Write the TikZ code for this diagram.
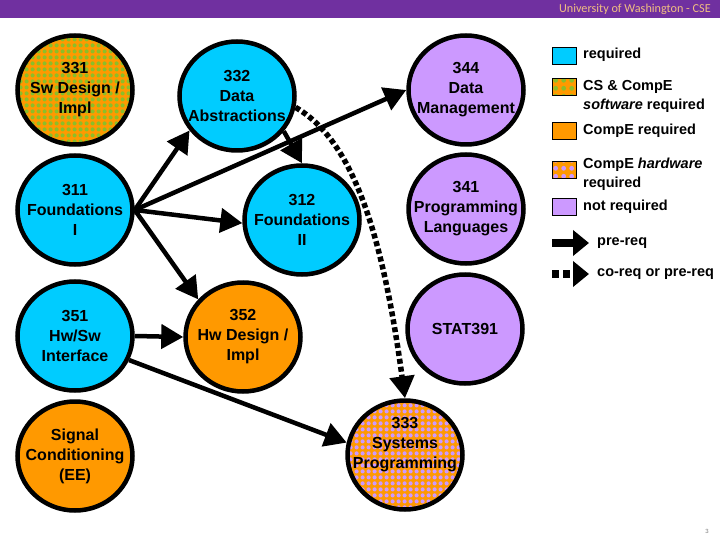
\documentclass[tikz,border=0pt]{standalone}
\usepackage{fontspec}
\setmainfont{Liberation Sans}
\newfontfamily\hdrfont{Carlito}
\usetikzlibrary{shapes.geometric,arrows.meta,patterns}
\definecolor{ccyan}{RGB}{0,204,255}
\definecolor{corange}{RGB}{255,153,0}
\definecolor{clav}{RGB}{204,153,255}
\definecolor{cgreen}{RGB}{140,190,40}
\definecolor{cpurple}{RGB}{112,48,160}
\definecolor{chdr}{RGB}{240,190,130}
\pgfdeclarepatternformonly{cdots}{\pgfqpoint{0pt}{0pt}}{\pgfqpoint{6pt}{6pt}}{\pgfqpoint{6pt}{6pt}}{\pgfpathcircle{\pgfqpoint{3pt}{3pt}}{2.4pt}\pgfusepath{fill}}
\pgfdeclarepatternformonly{ldots}{\pgfqpoint{0pt}{0pt}}{\pgfqpoint{8pt}{8pt}}{\pgfqpoint{8pt}{8pt}}{\pgfpathcircle{\pgfqpoint{4pt}{4pt}}{2.6pt}\pgfusepath{fill}}
\begin{document}
\begin{tikzpicture}[x=1pt,y=-1pt,
  coursetext/.style={inner sep=0pt, align=center, font=\bfseries\fontsize{16}{20}\selectfont},
  course/.style={ellipse, draw=black, line width=4.5pt, minimum width=115pt, minimum height=109pt,
    inner sep=0pt, label={[coursetext]center:#1}},
  req/.style={course={#1}, fill=ccyan},
  ceng/.style={course={#1}, fill=corange},
  notreq/.style={course={#1}, fill=clav},
  swreq/.style={course={#1}, preaction={fill=corange}, pattern=cdots, pattern color=cgreen},
  hwreq/.style={course={#1}, preaction={fill=corange}, pattern=cdots, pattern color=clav},
  prereq/.style={line width=4.5pt, -{Triangle[length=22pt,width=24pt]}},
  coreq/.style={line width=5.5pt, dash pattern=on 5pt off 3pt, -{Triangle[length=22pt,width=24pt]}},
  legbox/.style={draw=black, line width=0.8pt, minimum width=24pt, minimum height=17pt, inner sep=0pt},
  legtext/.style={anchor=west, inner sep=0pt, align=left, font=\bfseries\fontsize{14.5}{19}\selectfont}
]
\useasboundingbox (0,0) rectangle (720,540);
\fill[white] (0,0) rectangle (720,540);
% header
\fill[cpurple] (0,0) rectangle (720,18.5);
\node[anchor=east, inner sep=0pt, text=chdr, font=\hdrfont\fontsize{12.2}{13}\selectfont] (hdr) at (711,9) {University of Washington - CSE};

% courses
\node[swreq={331\\Sw Design /\\Impl}] (n331) at (75,90) {};
\node[req={332\\Data\\Abstractions}] (n332) at (237,96) {};
\node[notreq={344\\Data\\Management}] (n344) at (466,90) {};
\node[req={311\\Foundations\\I}] (n311) at (75,210) {};
\node[req={312\\Foundations\\II}] (n312) at (302,220) {};
\node[notreq={341\\Programming\\Languages}] (n341) at (466,209) {};
\node[req={351\\Hw/Sw\\Interface}] (n351) at (75,336) {};
\node[ceng={352\\Hw Design /\\Impl}] (n352) at (243,337) {};
\node[notreq={STAT391}] (n391) at (465,329) {};
\node[ceng={Signal\\Conditioning\\(EE)}] (nsig) at (75,456) {};
\node[hwreq={}] (n333) at (405,455) {};
\node[coursetext] (t333) at (405,445) {333\\Systems\\Programming};

% connectors
\draw[prereq] (n311.east) -- (n332.216);
\draw[prereq] (n311.east) -- (n344.west);
\draw[prereq] (n311.east) -- (n312.183);
\draw[prereq] (n311.east) -- (n352.140);
\draw[prereq] (n332.-37) -- (n312.north);
\draw[coreq] (n332.-11) .. controls (352,140) and (382,230) .. (n333.north);
\draw[prereq] (n351.east) -- (n352.west);
\draw[prereq] (n351.-24) -- (n333.168);

% legend
\node[legbox, fill=ccyan] (b1) at (564,56) {};
\node[legtext] (l1) at (583,55) {required};
\node[legbox, preaction={fill=corange}, pattern=ldots, pattern color=cgreen] (b2) at (564,87) {};
\node[legtext] (l2) at (583,96.5) {CS \& CompE\\\textit{software} required};
\node[legbox, fill=corange] (b3) at (564,131) {};
\node[legtext] (l3) at (583,131) {CompE required};
\node[legbox, preaction={fill=corange}, pattern=ldots, pattern color=clav] (b4) at (564,170) {};
\node[legtext] (l4) at (583,174.5) {CompE \textit{hardware}\\required};
\node[legbox, fill=clav] (b5) at (564,207) {};
\node[legtext] (l5) at (583,207) {not required};
\coordinate (p1) at (552,243);
\coordinate (p2) at (589,243);
\draw[line width=8pt, -{Triangle[length=16pt,width=25pt]}] (p1) -- (p2);
\node[legtext] (l6) at (597,243) {pre-req};
\coordinate (c1) at (552,274);
\coordinate (c2) at (589,274);
\draw[line width=8pt, dash pattern=on 7pt off 4pt, -{Triangle[length=16pt,width=25pt]}] (c1) -- (c2);
\node[legtext] (l7) at (597,274) {co-req or pre-req};

% page number
\node[inner sep=0pt, text=gray, font=\fontsize{6}{7}\selectfont] (pg) at (707,531) {3};
\end{tikzpicture}
\end{document}
